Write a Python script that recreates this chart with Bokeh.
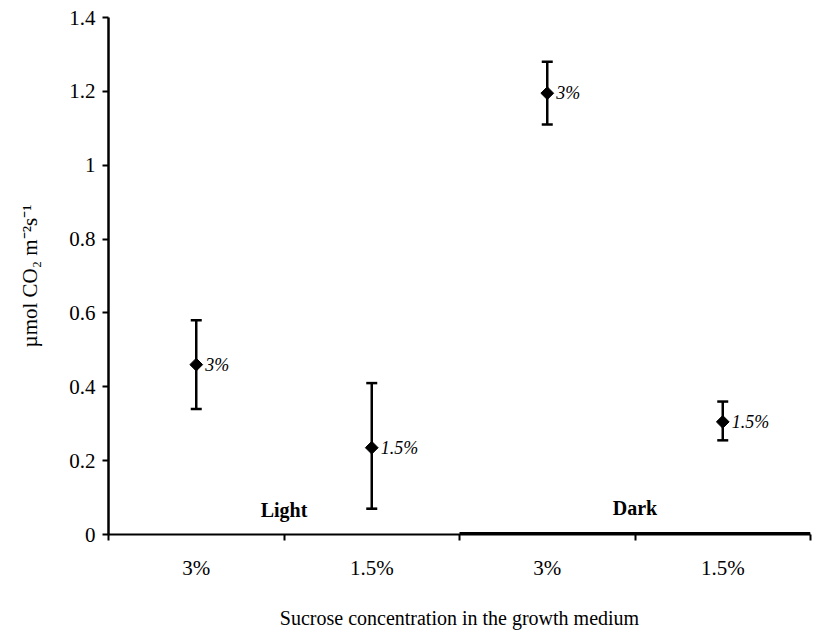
import numpy as np
from bokeh.plotting import figure
from bokeh.models import ColumnDataSource, Whisker, FixedTicker, Range1d, TeeHead
from bokeh.core.properties import value
from bokeh.embed import file_html
from bokeh.resources import INLINE

# ---- data ----
categories = ["3%", "1.5%", "3%", "1.5%"]
groups = ["Light", "Light", "Dark", "Dark"]
means = [0.46, 0.235, 1.195, 0.305]
lower = [0.34, 0.07, 1.11, 0.255]
upper = [0.58, 0.41, 1.28, 0.36]
point_labels = ["3%", "1.5%", "3%", "1.5%"]
group_names = ["Light", "Dark"]
group_label_y = [0.065, 0.073]
y_ticks = [0, 0.2, 0.4, 0.6, 0.8, 1.0, 1.2, 1.4]
y_tick_labels = ["0", "0.2", "0.4", "0.6", "0.8", "1", "1.2", "1.4"]

FONT = "Liberation Serif"

n = len(categories)
xs = [i + 0.5 for i in range(n)]
group_centers = []
group_bounds = []
for g in group_names:
    idx = [i for i, gg in enumerate(groups) if gg == g]
    group_bounds.append((min(idx), max(idx) + 1))
    group_centers.append((min(idx) + max(idx) + 1) / 2)

p = figure(width=813, height=637, x_range=Range1d(0, n), y_range=Range1d(0, 1.4),
           output_backend="svg", toolbar_location=None,
           min_border_left=108, min_border_right=3, min_border_top=17, min_border_bottom=103)
p.xgrid.grid_line_color = None
p.ygrid.grid_line_color = None
p.outline_line_color = None
p.background_fill_color = "white"

# x axis
p.xaxis.ticker = FixedTicker(ticks=xs, minor_ticks=list(range(n + 1)))
p.xaxis.major_label_overrides = {x: c for x, c in zip(xs, categories)}
p.xaxis.major_tick_line_color = None
p.xaxis.major_tick_out = 0
p.xaxis.major_tick_in = 0
p.xaxis.minor_tick_out = 6
p.xaxis.minor_tick_in = 0
p.xaxis.minor_tick_line_width = 2
p.xaxis.minor_tick_line_color = "black"
p.xaxis.axis_line_width = 2
p.xaxis.axis_line_color = "black"
p.xaxis.major_label_standoff = 15
p.xaxis.major_label_text_font = FONT
p.xaxis.major_label_text_font_size = "21px"
p.xaxis.major_label_text_color = "black"
p.xaxis.axis_label = "Sucrose concentration in the growth medium"
p.xaxis.axis_label_text_font = FONT
p.xaxis.axis_label_text_font_style = "normal"
p.xaxis.axis_label_text_font_size = "20px"
p.xaxis.axis_label_text_color = "black"
p.xaxis.axis_label_standoff = 24

# y axis
p.yaxis.ticker = FixedTicker(ticks=y_ticks)
p.yaxis.major_label_overrides = {t: l for t, l in zip(y_ticks, y_tick_labels)}
p.yaxis.minor_tick_line_color = None
p.yaxis.major_tick_out = 6
p.yaxis.major_tick_in = 0
p.yaxis.major_tick_line_width = 2
p.yaxis.major_tick_line_color = "black"
p.yaxis.axis_line_width = 2.5
p.yaxis.axis_line_color = "black"
p.yaxis.major_label_standoff = 7
p.yaxis.major_label_text_font = FONT
p.yaxis.major_label_text_font_size = "21px"
p.yaxis.major_label_text_color = "black"
p.yaxis.axis_label = "µmol CO₂ m⁻²s⁻¹"
p.yaxis.axis_label_text_font = FONT
p.yaxis.axis_label_text_font_style = "normal"
p.yaxis.axis_label_text_font_size = "21px"
p.yaxis.axis_label_text_color = "black"
p.yaxis.axis_label_standoff = 24

# thick baseline under the Dark group
db = group_bounds[group_names.index("Dark")]
p.segment(x0=[db[0]], y0=[0], x1=[db[1]], y1=[0], line_width=5, line_color="black")

src = ColumnDataSource(dict(x=xs, mean=means, lower=lower, upper=upper, label=point_labels))
w = Whisker(source=src, base="x", lower="lower", upper="upper",
            line_width=2.5, line_color="black",
            upper_head=TeeHead(size=11, line_width=2.5, line_color="black"),
            lower_head=TeeHead(size=11, line_width=2.5, line_color="black"))
p.add_layout(w)
p.scatter("x", "mean", source=src, marker="square", angle=np.pi / 4, size=9, color="black")
p.text("x", "mean", text="label", source=src, x_offset=9, text_baseline="middle",
       text_font=value(FONT), text_font_style="italic", text_font_size="18px", text_color="black")

p.text(x=group_centers, y=group_label_y, text=group_names, text_align="center", text_baseline="middle",
       text_font=value(FONT), text_font_style="bold", text_font_size="20px", text_color="black")

open("out.html", "w").write(file_html(p, INLINE))
